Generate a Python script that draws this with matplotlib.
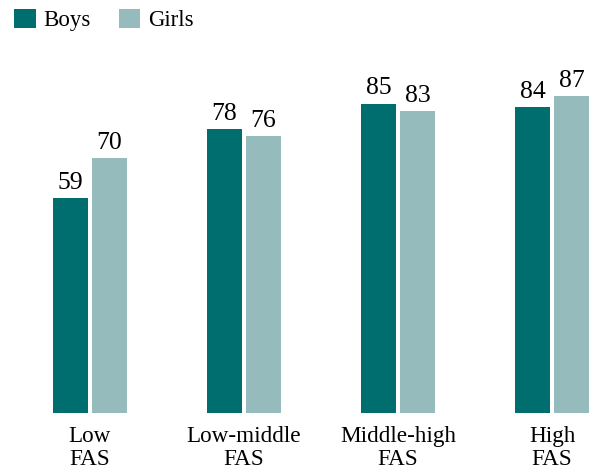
import matplotlib.pyplot as plt
import numpy as np

# data
groups = ['Low\nFAS', 'Low-middle\nFAS', 'Middle-high\nFAS', 'High\nFAS']
boys = [59, 78, 85, 84]
girls = [70, 76, 83, 87]

boys_color = '#006e6f'
girls_color = '#95bbbc'

plt.rcParams['font.family'] = ['Liberation Serif', 'DejaVu Serif']

fig = plt.figure(figsize=(5.93, 4.75), dpi=100)
ax = fig.add_axes([0, 0.1305, 1, 0.7663])

x = np.arange(len(groups))
width = 0.227
offset = 0.127

b1 = ax.bar(x - offset, boys, width, color=boys_color, label='Boys')
b2 = ax.bar(x + offset, girls, width, color=girls_color, label='Girls')

for bars in (b1, b2):
    for rect in bars:
        h = rect.get_height()
        ax.annotate(f'{h:.0f}', (rect.get_x() + rect.get_width() / 2, h),
                    xytext=(0, 3), textcoords='offset points',
                    ha='center', va='bottom', fontsize=18.5)

ax.set_xlim(-0.584, 3.266)
ax.set_ylim(0, 100)
ax.set_xticks(x)
ax.set_xticklabels(groups, fontsize=16.7, linespacing=1.15)
ax.tick_params(axis='x', length=0, pad=9)
ax.set_yticks([])
for s in ax.spines.values():
    s.set_visible(False)

leg = fig.legend(loc='upper left', bbox_to_anchor=(14 / 593, 1 - 9 / 475), ncol=2,
                 frameon=False, fontsize=16.5, handlelength=0.95, handleheight=0.9,
                 handletextpad=0.35, columnspacing=1.2, borderaxespad=0, borderpad=0)

fig.savefig('out.png', dpi=100)
